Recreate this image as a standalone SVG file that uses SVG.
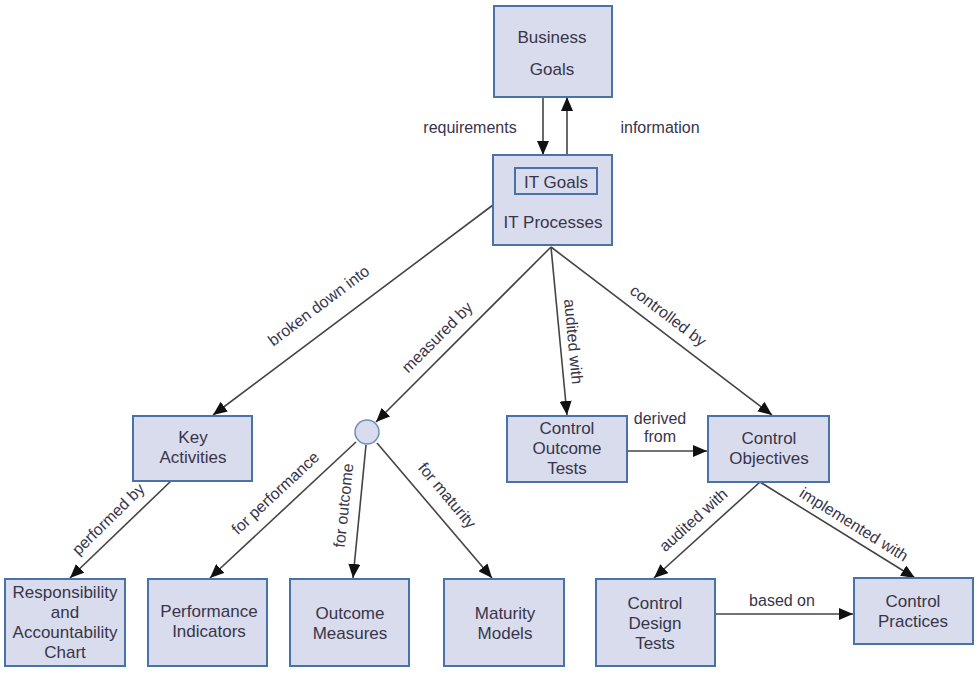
<svg xmlns="http://www.w3.org/2000/svg" width="980" height="675" viewBox="0 0 980 675">
<style>
.box{fill:#d8dcec;stroke:#4a72aa;stroke-width:2}
.nt{font-family:"Liberation Sans",Arial,sans-serif;font-size:17px;fill:#38354a;text-anchor:middle}
.el{font-family:"Liberation Sans",Arial,sans-serif;font-size:16px;fill:#38354a;text-anchor:middle}
.ln{stroke:#444;stroke-width:1.6;fill:none;marker-end:url(#ah)}
</style>
<defs>
<marker id="ah" viewBox="0 0 14 12" refX="14" refY="6" markerWidth="14" markerHeight="12" markerUnits="userSpaceOnUse" orient="auto">
<path d="M0,0 L14,6 L0,12 Z" fill="#111"/>
</marker>
</defs>
<rect width="980" height="675" fill="#fff"/>
<g id="connectors">
<line class="ln" x1="543" y1="97" x2="543" y2="155"/>
<line class="ln" x1="567" y1="155" x2="567" y2="97"/>
<line class="ln" x1="493" y1="205" x2="213" y2="415"/>
<line class="ln" x1="551" y1="247" x2="376" y2="422"/>
<line class="ln" x1="551" y1="247" x2="567" y2="415"/>
<line class="ln" x1="551" y1="247" x2="772" y2="415"/>
<line class="ln" x1="171" y1="481" x2="70" y2="578"/>
<line class="ln" x1="356" y1="442" x2="210" y2="578"/>
<line class="ln" x1="366" y1="445" x2="353" y2="578"/>
<line class="ln" x1="377" y1="443" x2="492" y2="578"/>
<line class="ln" x1="627" y1="451" x2="707" y2="451"/>
<line class="ln" x1="760" y1="482" x2="654" y2="578"/>
<line class="ln" x1="760" y1="482" x2="915" y2="578"/>
<line class="ln" x1="715" y1="614" x2="853" y2="614"/>
<text class="el" x="470" y="133">requirements</text>
<text class="el" x="660" y="133">information</text>
<text class="el" transform="translate(322,310) rotate(-37)">broken down into</text>
<text class="el" transform="translate(441,341) rotate(-45)">measured by</text>
<text class="el" transform="translate(568,342) rotate(84.6)">audited with</text>
<text class="el" transform="translate(665,320) rotate(37)">controlled by</text>
<text class="el" x="660" y="424">derived</text>
<text class="el" x="660" y="442">from</text>
<text class="el" transform="translate(112,523) rotate(-44.5)">performed by</text>
<text class="el" transform="translate(279,497) rotate(-43)">for performance</text>
<text class="el" transform="translate(349,506) rotate(-84)">for outcome</text>
<text class="el" transform="translate(443,499) rotate(50)">for maturity</text>
<text class="el" transform="translate(697,524) rotate(-42)">audited with</text>
<text class="el" transform="translate(851,529) rotate(32)">implemented with</text>
<text class="el" x="782" y="606">based on</text>
</g>
<g id="business-goals">
<rect class="box" x="494" y="6" width="118" height="91"/>
<text class="nt" x="552" y="43">Business</text>
<text class="nt" x="552" y="75">Goals</text>
</g>
<g id="it-processes">
<rect class="box" x="493" y="155" width="119" height="90"/>
<rect x="515" y="168" width="82" height="26" fill="none" stroke="#4a72aa" stroke-width="2"/>
<text class="nt" x="556" y="188">IT Goals</text>
<text class="nt" x="553" y="228">IT Processes</text>
</g>
<g id="key-activities">
<rect class="box" x="133" y="416" width="119" height="65"/>
<text class="nt" x="193" y="443">Key</text>
<text class="nt" x="193" y="463">Activities</text>
</g>
<g id="measure-hub">
<circle cx="367" cy="432" r="12" fill="#d8dcec" stroke="#6d8cc0" stroke-width="1.5"/>
</g>
<g id="control-outcome-tests">
<rect class="box" x="507" y="416" width="120" height="66"/>
<text class="nt" x="567" y="434">Control</text>
<text class="nt" x="567" y="454">Outcome</text>
<text class="nt" x="567" y="474">Tests</text>
</g>
<g id="control-objectives">
<rect class="box" x="708" y="416" width="121" height="66"/>
<text class="nt" x="769" y="444">Control</text>
<text class="nt" x="769" y="464">Objectives</text>
</g>
<g id="responsibility-chart">
<rect class="box" x="5" y="579" width="120" height="87"/>
<text class="nt" x="65" y="598">Responsibility</text>
<text class="nt" x="65" y="618">and</text>
<text class="nt" x="65" y="638">Accountability</text>
<text class="nt" x="65" y="658">Chart</text>
</g>
<g id="performance-indicators">
<rect class="box" x="148" y="579" width="119" height="87"/>
<text class="nt" x="209" y="617">Performance</text>
<text class="nt" x="209" y="637">Indicators</text>
</g>
<g id="outcome-measures">
<rect class="box" x="290" y="579" width="119" height="87"/>
<text class="nt" x="350" y="619">Outcome</text>
<text class="nt" x="350" y="639">Measures</text>
</g>
<g id="maturity-models">
<rect class="box" x="444" y="579" width="120" height="87"/>
<text class="nt" x="505" y="619">Maturity</text>
<text class="nt" x="505" y="639">Models</text>
</g>
<g id="control-design-tests">
<rect class="box" x="596" y="579" width="119" height="87"/>
<text class="nt" x="655" y="609">Control</text>
<text class="nt" x="655" y="629">Design</text>
<text class="nt" x="655" y="649">Tests</text>
</g>
<g id="control-practices">
<rect class="box" x="854" y="578" width="119" height="66"/>
<text class="nt" x="913" y="607">Control</text>
<text class="nt" x="913" y="627">Practices</text>
</g>
</svg>
